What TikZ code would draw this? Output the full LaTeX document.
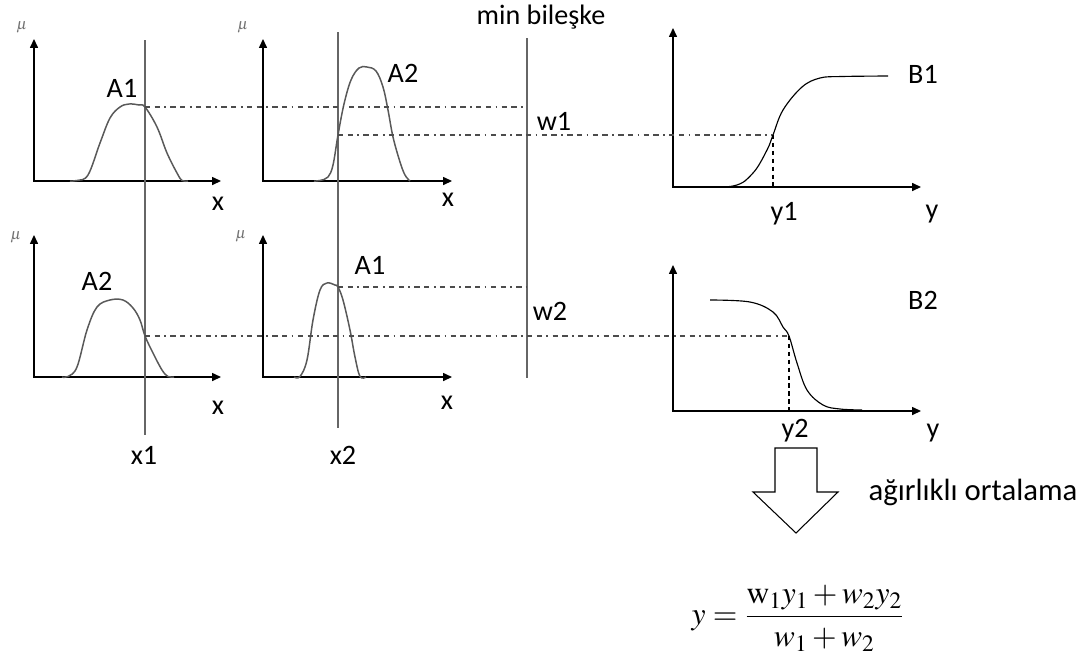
\documentclass[tikz,border=0pt]{standalone}
\usepackage{mathptmx}
\usepackage[no-math]{fontspec}
\setmainfont{Carlito}
\usetikzlibrary{arrows.meta}

\begin{document}
\begin{tikzpicture}[x=0.02cm, y=-0.02cm,
    axes/.style={line width=0.7pt, {Triangle[length=5pt,width=4.5pt]}-{Triangle[length=5pt,width=4.5pt]}},
    cut/.style={line width=0.8pt, black!60},
    mf/.style={line width=0.85pt, black!65},
    outmf/.style={line width=0.65pt, black},
    level/.style={line width=0.6pt, black!70, dash pattern={on 3pt off 2.5pt on 3pt off 2.5pt on 1pt off 2.5pt}},
    drop/.style={line width=0.6pt, black, dash pattern=on 2.5pt off 2pt},
    lbl/.style={font=\fontsize{16}{19}\selectfont},
    mulbl/.style={font=\fontsize{9}{10}\selectfont, text=black!55}]
  \useasboundingbox (0,0) rectangle (1092,657);

  % axes of the six panels
  \coordinate (o11) at (34,181);
  \coordinate (o12) at (263,181);
  \coordinate (o21) at (34,377);
  \coordinate (o22) at (263,377);
  \coordinate (ob1) at (673,187);
  \coordinate (ob2) at (673,411);
  \draw[axes] (34,39) -- (o11) -- (221,181);
  \draw[axes] (263,39) -- (o12) -- (452,181);
  \draw[axes] (34,235) -- (o21) -- (221,377);
  \draw[axes] (263,235) -- (o22) -- (452,377);
  \draw[axes] (673,28) -- (ob1) -- (921,187);
  \draw[axes] (673,265) -- (ob2) -- (921,411);

  % crisp inputs and the min line
  \coordinate (x1top) at (145,40);
  \coordinate (x1bot) at (145,435);
  \coordinate (x2top) at (338,32);
  \coordinate (x2bot) at (338,428);
  \coordinate (mintop) at (527,38);
  \coordinate (minbot) at (527,378);
  \draw[cut] (x1top) -- (x1bot);
  \draw[cut] (x2top) -- (x2bot);
  \draw[cut] (mintop) -- (minbot);

  % membership functions
  \draw[mf] plot[smooth, tension=0.6] coordinates {(70,181) (77,180.5) (88,175) (100,143) (110,118) (120,107) (129,104) (139,105) (145,107) (157,127) (167,153) (177,173) (182,180.5) (188,181)};
  \draw[mf] plot[smooth, tension=0.6] coordinates {(314,181) (320,180.5) (328,177) (333,165) (338,135) (344,104) (351,80) (359,68) (367,67) (376,71) (383,87) (388,110) (393,137) (400,162) (405,175) (410,181)};
  \draw[mf] plot[smooth, tension=0.6] coordinates {(62,377) (68,376.5) (77,367) (87,330) (97,307) (110,300) (123,300) (133,308) (140,320) (145,336) (153,353) (162,370) (168,376.5) (174,377)};
  \draw[mf] plot[smooth, tension=0.6] coordinates {(294,377) (300,376.5) (307,360) (313,320) (320,290) (327,283) (335,285) (338,287) (343,300) (350,330) (355,357) (360,376.5) (366,377)};
  \draw[outmf] plot[smooth, tension=0.6] coordinates {(686,187) (733,186) (753,173) (767,150) (773,135) (783,110) (802,87) (820,78) (842,76.5) (888,76)};
  \draw[outmf] plot[smooth, tension=0.6] coordinates {(710,300) (750,302) (773,312) (783,327) (789,336) (797,363) (807,390) (823,405) (840,409) (862,410)};

  % firing levels
  \coordinate (c11) at (145,107);
  \coordinate (c12) at (338,135);
  \coordinate (c21) at (145,336);
  \coordinate (c22) at (338,287);
  \coordinate (b1) at (773,135);
  \coordinate (b2) at (789,336);
  \draw[level] (c11) -- (c11 -| mintop);
  \draw[level] (c12) -- (b1);
  \draw[level] (c21) -- (b2);
  \draw[level] (c22) -- (c22 -| mintop);
  \draw[drop] (b1) -- (b1 |- ob1);
  \draw[drop] (b2) -- (b2 |- ob2);

  % labels
  \node[mulbl] (mu11) at (22,27) {$\mu$};
  \node[mulbl] (mu12) at (243,27) {$\mu$};
  \node[mulbl] (mu21) at (16,237) {$\mu$};
  \node[mulbl] (mu22) at (241,236) {$\mu$};
  \node[lbl] (lA11) at (122,88) {A1};
  \node[lbl] (lA12) at (403,73) {A2};
  \node[lbl] (lA21) at (97,281) {A2};
  \node[lbl] (lA22) at (370,265) {A1};
  \node[lbl] (lx11) at (218,204) {x};
  \node[lbl] (lx12) at (448,200) {x};
  \node[lbl] (lx21) at (218,408) {x};
  \node[lbl] (lx22) at (447,403) {x};
  \node[lbl] (lx1) at (144,455) {x1};
  \node[lbl] (lx2) at (343,455) {x2};
  \node[lbl] (lmin) at (541,17) {min bileşke};
  \node[lbl] (lw1) at (554,121) {w1};
  \node[lbl] (lw2) at (550,311) {w2};
  \node[lbl] (lB1) at (923,74) {B1};
  \node[lbl] (lB2) at (923,300) {B2};
  \node[lbl] (ly1) at (784,214) {y1};
  \node[lbl] (ly1a) at (932,214) {y};
  \node[lbl] (ly2) at (795,431) {y2};
  \node[lbl] (ly2a) at (933,433) {y};

  % weighted average
  \coordinate (ar1) at (775,448);
  \coordinate (ar2) at (817,448);
  \coordinate (ar3) at (817,492);
  \coordinate (ar4) at (838,492);
  \coordinate (ar5) at (796,533);
  \coordinate (ar6) at (753,492);
  \coordinate (ar7) at (775,492);
  \draw[line width=0.6pt] (ar1) -- (ar2) -- (ar3) -- (ar4) -- (ar5) -- (ar6) -- (ar7) -- cycle;
  \node[font=\fontsize{17.5}{20}\selectfont] (lavg) at (973,492) {ağırlıklı ortalama};
  \node (favg) at (798,618) {\fontsize{18}{22}\selectfont $\displaystyle y=\frac{\mathrm{w}_1y_1+w_2y_2}{w_1+w_2}$};
\end{tikzpicture}
\end{document}
